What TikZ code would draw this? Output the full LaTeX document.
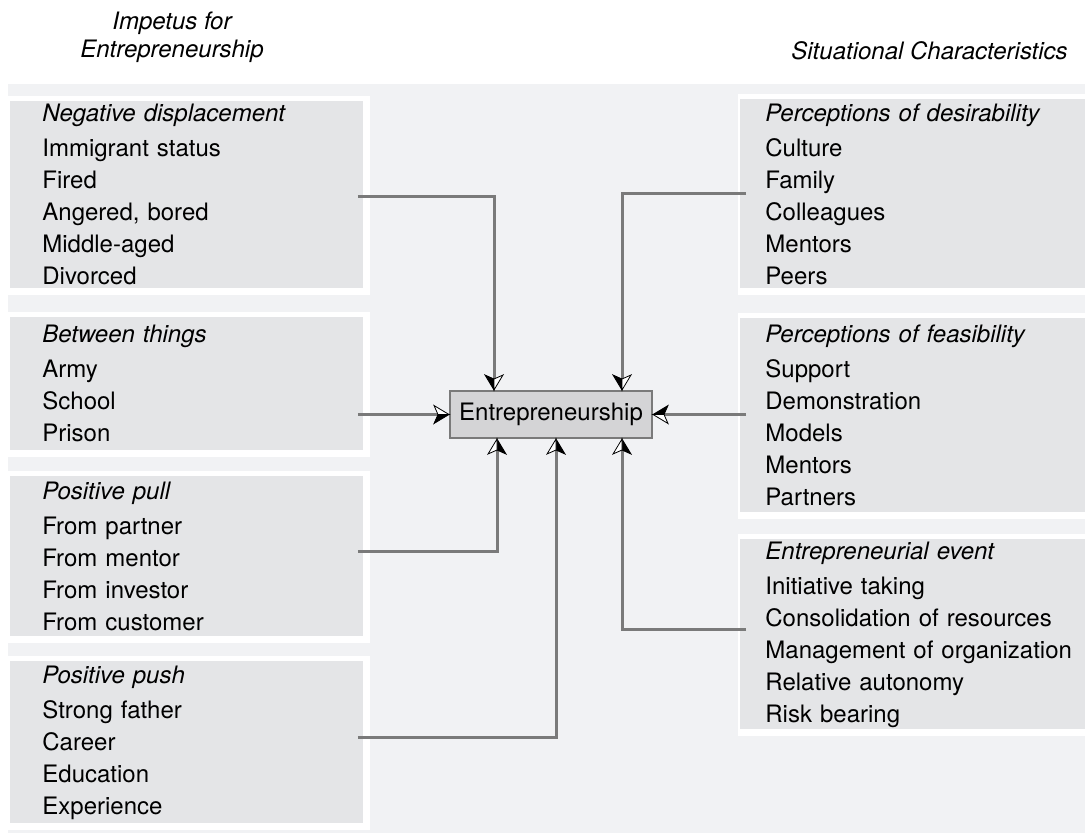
\documentclass[tikz,border=0pt]{standalone}
\usepackage{fontspec}
\setmainfont{TeX Gyre Heros}
\usetikzlibrary{
    calc,
    backgrounds
}
\definecolor{bggray}{HTML}{F1F2F4}
\definecolor{boxgray}{HTML}{E4E5E7}
\definecolor{coregray}{HTML}{D4D4D6}
\definecolor{linegray}{HTML}{7A7A7A}

% split stealth tip: dark half on the right of the path, open half on the left
\pgfdeclarearrow{
    name = HalfStealth,
    setup code = {
        \pgfarrowssettipend{0pt}
        \pgfarrowssetlineend{-5pt}
        \pgfarrowssetbackend{-7.5pt}
    },
    drawing code = {
        \pgfsetlinewidth{0.4pt}
        \pgfsetstrokecolor{black}
        \pgfsetfillcolor{black}
        \pgfpathmoveto{\pgfpointorigin}
        \pgfpathlineto{\pgfpoint{-7.5pt}{-4.5pt}}
        \pgfpathlineto{\pgfpoint{-5.5pt}{0pt}}
        \pgfpathclose
        \pgfusepathqfillstroke
        \pgfsetfillcolor{white}
        \pgfpathmoveto{\pgfpointorigin}
        \pgfpathlineto{\pgfpoint{-7.5pt}{4.5pt}}
        \pgfpathlineto{\pgfpoint{-5.5pt}{0pt}}
        \pgfpathclose
        \pgfusepathqfillstroke
    }
}

\tikzset {
    factor/.style = {
        rectangle,
        fill = boxgray,
        anchor = north west,
        align = left,
        inner ysep = 0pt,
        font = \fontsize{12}{16}\selectfont
    },
    left factor/.style = {factor, inner xsep = 16pt, text width = 144.5pt},
    right factor/.style = {factor, inner xsep = 12.5pt, text width = 160pt},
    core/.style = {
        rectangle,
        fill = coregray,
        draw = linegray,
        line width = 1pt,
        minimum width = 101pt,
        minimum height = 23.5pt,
        inner sep = 0pt,
        font = \fontsize{12}{14}\selectfont
    },
    caption/.style = {align = center, inner sep = 0pt, font = \fontsize{12}{14}\selectfont\itshape},
    link/.style = {draw = linegray, line width = 1.5pt, shorten <= -3pt, -HalfStealth}
}

\begin{document}
\begin{tikzpicture}[x = 0.5pt, y = -0.5pt]
    \useasboundingbox (0, 0) rectangle (1085, 836);

    \node (impetus) [caption] at (172, 37) {Impetus for\\Entrepreneurship};
    \node (situational) [caption, anchor = east] at (1068, 51) {Situational Characteristics};

    \node (l1) [left factor, minimum height = 93.5pt] at (10, 101) {
        \textit{Negative displacement}\\[1.5pt]
        Immigrant status\\ Fired\\ Angered, bored\\ Middle-aged\\ Divorced};
    \node (l2) [left factor, minimum height = 66.5pt] at (10, 317) {
        \textit{Between things}\\[1.5pt]
        Army\\ School\\ Prison};
    \node (l3) [left factor, minimum height = 80pt] at (10, 476) {
        \textit{Positive pull}\\[1.5pt]
        From partner\\ From mentor\\ From investor\\ From customer};
    \node (l4) [left factor, minimum height = 81pt] at (10, 661) {
        \textit{Positive push}\\[1.5pt]
        Strong father\\ Career\\ Education\\ Experience};

    \node (r1) [right factor, minimum height = 94.5pt] at (740, 99) {
        \textit{Perceptions of desirability}\\[1.5pt]
        Culture\\ Family\\ Colleagues\\ Mentors\\ Peers};
    \node (r2) [right factor, minimum height = 97pt] at (740, 318) {
        \textit{Perceptions of feasibility}\\[1.5pt]
        Support\\ Demonstration\\ Models\\ Mentors\\ Partners};
    \node (r3) [right factor, minimum height = 95pt] at (740, 539) {
        \textit{Entrepreneurial event}\\[1.5pt]
        Initiative taking\\ Consolidation of resources\\ Management of organization\\
        Relative autonomy\\ Risk bearing};

    \node (core) [core] at (551, 414.5) {Entrepreneurship};

    \begin{scope}[on background layer]
        \fill [bggray] (8, 84) rectangle (1085, 833);
        \foreach \b in {l1, l2, l3, l4, r1, r2, r3}
            \fill [white] ([shift = {(-2, -5)}]\b.north west) rectangle ([shift = {(6, 6)}]\b.south east);
    \end{scope}

    \draw [link] ([yshift = -1pt]l1.east) -| ($(core.north) + (-57, 0)$);
    \draw [link] (r1.west) -| ($(core.north) + (71, 0)$);
    \draw [link] (l2.east |- core.west) -- (core.west);
    \draw [link] (r2.west |- core.east) -- (core.east);
    \draw [link] ([yshift = 2.5pt]l3.east) -| ($(core.south) + (-54, 0)$);
    \draw [link] ([yshift = 2.5pt]l4.east) -| ($(core.south) + (5, 0)$);
    \draw [link] ([yshift = 2.5pt]r3.west) -| ($(core.south) + (71, 0)$);
\end{tikzpicture}
\end{document}
